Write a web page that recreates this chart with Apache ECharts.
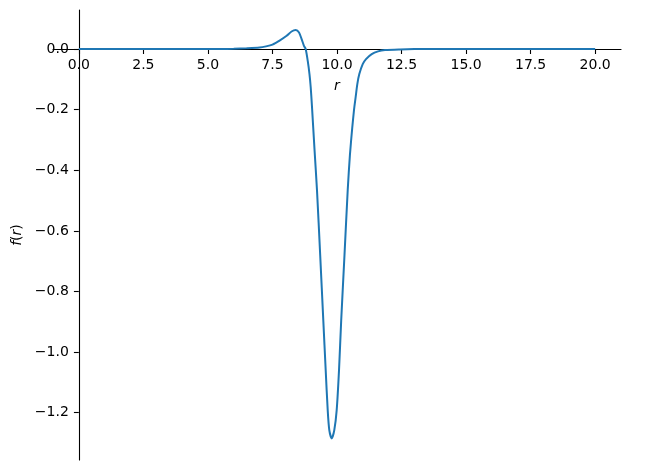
<!DOCTYPE html>
<html>
<head>
<meta charset="utf-8">
<script src="https://cdn.jsdelivr.net/npm/echarts@6/dist/echarts.min.js"></script>
<style>html,body{margin:0;padding:0;background:#fff;}#c{width:658px;height:470px;}</style>
</head>
<body>
<div id="c"></div>
<script>
const rValues = [0, 1, 2, 3, 4, 5, 5.5, 6, 6.5, 7, 7.25, 7.5, 7.79, 8.05, 8.24, 8.40, 8.53, 8.63, 8.72, 8.787, 8.868, 8.934, 8.981, 9.031, 9.128, 9.225, 9.349, 9.469, 9.562, 9.640, 9.702, 9.795, 9.895, 9.988, 10.078, 10.163, 10.29, 10.415, 10.50, 10.59, 10.66, 10.72, 10.787, 10.864, 10.996, 11.124, 11.345, 11.589, 11.86, 12.44, 13, 14, 15, 16, 17, 18, 19, 20];
const fValues = [0, 0, 0, 0, 0, 0, 0.0003, 0.001, 0.0025, 0.005, 0.009, 0.015, 0.029, 0.044, 0.058, 0.063, 0.055, 0.033, 0.011, 0, -0.04, -0.0825, -0.125, -0.19, -0.33, -0.4653, -0.68, -0.8944, -1.0594, -1.1914, -1.2574, -1.2848, -1.2574, -1.1914, -1.0594, -0.8944, -0.68, -0.4653, -0.35, -0.26, -0.2, -0.16, -0.1155, -0.0825, -0.0495, -0.033, -0.0165, -0.0076, -0.0033, -0.001, 0, 0, 0, 0, 0, 0, 0, 0];
const xTicks = [0, 2.5, 5, 7.5, 10, 12.5, 15, 17.5, 20];
const yTicks = [0, -0.2, -0.4, -0.6, -0.8, -1.0, -1.2];

const xMin = -1, xMax = 21, yMin = -1.356, yMax = 0.129;
const W = 658, H = 470;
const gLeft = 53, gRight = 37, gTop = 10, gBottom = 10;
const gW = W - gLeft - gRight, gH = H - gTop - gBottom;
// place spines at zero like the reference
const xAxisOffset = -gH * (0 - yMin) / (yMax - yMin);
const yAxisOffset = -gW * (0 - xMin) / (xMax - xMin);

const fmt = v => (v < 0 ? '\u2212' : '') + Math.abs(v).toFixed(1);
const font = 'DejaVu Sans';
const axisCol = '#000';

const chart = echarts.init(document.getElementById('c'), null, {renderer: 'canvas'});
chart.setOption({
  animation: false,
  backgroundColor: '#fff',
  grid: {left: gLeft, right: gRight, top: gTop, bottom: gBottom, containLabel: false, outerBoundsMode: 'none'},
  xAxis: {
    type: 'value', min: xMin, max: xMax, position: 'bottom', offset: xAxisOffset,
    name: 'r', nameLocation: 'middle', nameGap: 30,
    nameTextStyle: {fontFamily: font, fontStyle: 'italic', fontSize: 14, color: '#000'},
    axisLine: {onZero: false, lineStyle: {color: axisCol, width: 1.1}},
    axisTick: {show: true, length: 4.9, lineStyle: {color: axisCol, width: 1.1}, customValues: xTicks},
    axisLabel: {customValues: xTicks, formatter: fmt, margin: 9, fontFamily: font, fontSize: 14, color: '#000'},
    splitLine: {show: false}
  },
  yAxis: {
    type: 'value', min: yMin, max: yMax, position: 'left', offset: yAxisOffset,
    name: '{i|f}{n|(}{i|r}{n|)}', nameLocation: 'middle', nameRotate: 90, nameGap: 43,
    nameTextStyle: {fontFamily: font, fontSize: 14, color: '#000',
      rich: {i: {fontFamily: font, fontStyle: 'italic', fontSize: 14, color: '#000'}, n: {fontFamily: font, fontSize: 14, color: '#000'}}},
    axisLine: {show: true, onZero: false, lineStyle: {color: axisCol, width: 1.1}},
    axisTick: {show: true, length: 4.9, lineStyle: {color: axisCol, width: 1.1}, customValues: yTicks},
    axisLabel: {customValues: yTicks, formatter: fmt, margin: 10, fontFamily: font, fontSize: 14, color: '#000'},
    splitLine: {show: false}
  },
  series: [{
    type: 'line',
    data: rValues.map((r, i) => [r, fValues[i]]),
    showSymbol: false,
    smooth: 0.25,
    lineStyle: {color: '#1f77b4', width: 2},
    z: 1
  }]
});
</script>
</body>
</html>
